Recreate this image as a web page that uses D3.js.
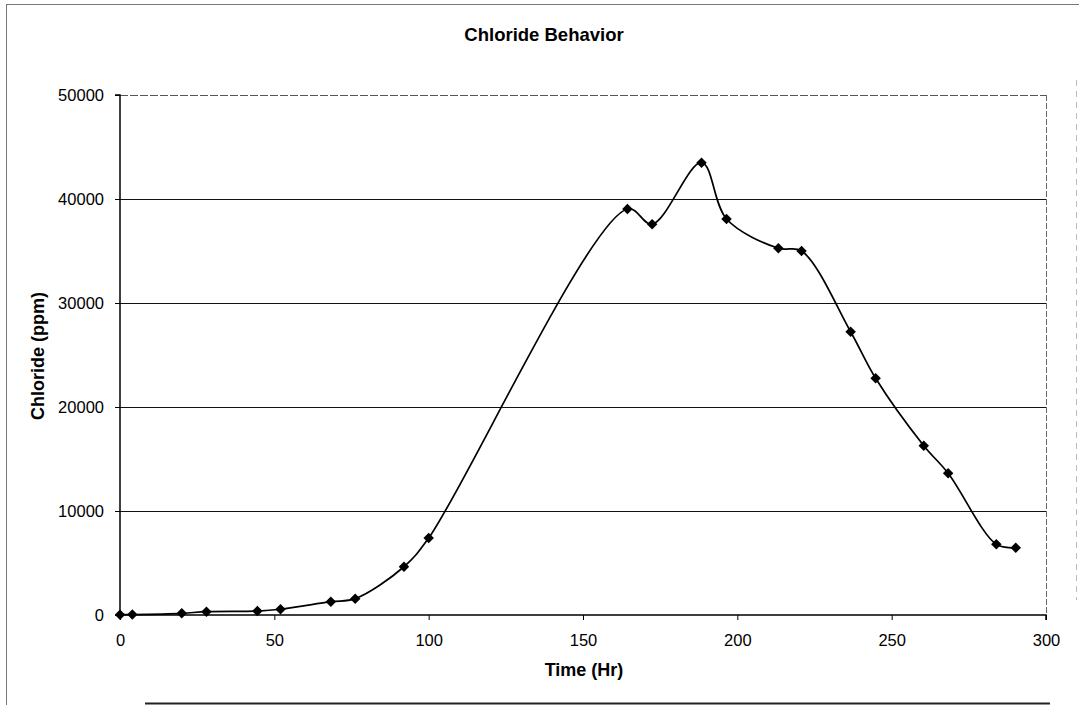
<!DOCTYPE html>
<html>
<head>
<meta charset="utf-8">
<script src="https://cdn.jsdelivr.net/npm/d3@7"></script>
<style>
  html, body { margin: 0; padding: 0; background: #fff; }
  svg { display: block; font-family: "Liberation Sans", Arial, sans-serif; }
</style>
</head>
<body>
<svg id="chart" width="1079" height="705"></svg>
<script>
// Sampling times (hours)
const timeHr = [0, 4, 20, 28, 44.5, 52, 68.3, 76.2, 92, 100,
                164.4, 172.4, 188.4, 196.5, 213.3, 220.8, 236.7, 244.8,
                260.4, 268.3, 283.9, 290.2];
// Chloride concentration (ppm)
const chloridePpm = [30, 40, 160, 320, 380, 550, 1280, 1570, 4640, 7400,
                     39040, 37570, 43490, 38080, 35260, 35000, 27240, 22760,
                     16280, 13630, 6800, 6470];
const xTicks = [0, 50, 100, 150, 200, 250, 300];
const yTicks = [0, 10000, 20000, 30000, 40000, 50000];

(function drawChart() {
  const points = timeHr.map((t, i) => ({ t, c: chloridePpm[i] }));

  const svg = d3.select("#chart");
  const plotLeft = 120, plotRight = 1046, plotTop = 95, plotBottom = 615;

  const x = d3.scaleLinear().domain([0, 300]).range([plotLeft, plotRight]);
  const y = d3.scaleLinear().domain([0, 50000]).range([plotBottom, plotTop]);

  // Page frame
  svg.append("line").attr("x1", 6).attr("x2", 1079).attr("y1", 4.5).attr("y2", 4.5)
    .attr("stroke", "#777").attr("stroke-width", 1);
  svg.append("line").attr("x1", 6.5).attr("x2", 6.5).attr("y1", 4).attr("y2", 705)
    .attr("stroke", "#777").attr("stroke-width", 1);
  svg.append("line").attr("x1", 145).attr("x2", 1050).attr("y1", 703.5).attr("y2", 703.5)
    .attr("stroke", "#222").attr("stroke-width", 2);
  svg.append("line").attr("x1", 1076.5).attr("x2", 1076.5).attr("y1", 80).attr("y2", 600)
    .attr("stroke", "#bbb").attr("stroke-width", 1).attr("stroke-dasharray", "6,5");

  // Horizontal gridlines
  svg.append("g")
    .selectAll("line")
    .data(yTicks.filter(v => v > 0 && v < 50000))
    .join("line")
    .attr("x1", plotLeft).attr("x2", plotRight)
    .attr("y1", d => Math.round(y(d)) + 0.5).attr("y2", d => Math.round(y(d)) + 0.5)
    .attr("stroke", "#111").attr("stroke-width", 1);

  // Plot area top and right edges
  svg.append("line").attr("x1", plotLeft).attr("x2", plotRight)
    .attr("y1", plotTop + 0.5).attr("y2", plotTop + 0.5)
    .attr("stroke", "#555").attr("stroke-width", 1).attr("stroke-dasharray", "8,2");
  svg.append("line").attr("x1", plotRight + 0.5).attr("x2", plotRight + 0.5)
    .attr("y1", plotTop).attr("y2", plotBottom)
    .attr("stroke", "#666").attr("stroke-width", 1).attr("stroke-dasharray", "6,2");

  // Axes
  const xAxis = svg.append("g")
    .attr("transform", `translate(0,${plotBottom})`)
    .call(d3.axisBottom(x).tickValues(xTicks).tickSize(5).tickPadding(14).tickFormat(d3.format("d")));
  const yAxis = svg.append("g")
    .attr("transform", `translate(${plotLeft},0)`)
    .call(d3.axisLeft(y).tickValues(yTicks).tickSize(5).tickPadding(11).tickFormat(d3.format("d")));

  [xAxis, yAxis].forEach(g => {
    g.select(".domain").attr("stroke", "#000").attr("stroke-width", 1.5);
    g.selectAll(".tick line").attr("stroke", "#000").attr("stroke-width", 1);
    g.selectAll(".tick text").attr("fill", "#000")
      .style("font-size", "16.5px").style("font-family", "'Liberation Sans', Arial, sans-serif");
  });
  yAxis.select(".domain").attr("d", `M-5,${plotTop}H0V${plotBottom}`);
  xAxis.select(".domain").attr("d", `M${plotLeft},0H${plotRight}V5`);

  // Smoothed data line
  const line = d3.line()
    .x(d => x(d.t))
    .y(d => y(d.c))
    .curve(d3.curveCatmullRom.alpha(0.5));
  svg.append("path")
    .datum(points)
    .attr("d", line)
    .attr("fill", "none")
    .attr("stroke", "#000")
    .attr("stroke-width", 1.7);

  // Diamond markers
  const diamond = d3.symbol().type(d3.symbolSquare).size(55);
  svg.append("g")
    .selectAll("path")
    .data(points)
    .join("path")
    .attr("transform", d => `translate(${x(d.t)},${y(d.c)}) rotate(45)`)
    .attr("d", diamond)
    .attr("fill", "#000");

  // Titles
  svg.append("text")
    .attr("x", 544).attr("y", 41)
    .attr("text-anchor", "middle")
    .style("font-size", "18.5px").style("font-weight", "bold")
    .text("Chloride Behavior");
  svg.append("text")
    .attr("x", 584).attr("y", 676)
    .attr("text-anchor", "middle")
    .style("font-size", "18px").style("font-weight", "bold")
    .text("Time (Hr)");
  svg.append("text")
    .attr("transform", "translate(44,356) rotate(-90)")
    .attr("text-anchor", "middle")
    .style("font-size", "18px").style("font-weight", "bold")
    .text("Chloride (ppm)");
})();
</script>
</body>
</html>
